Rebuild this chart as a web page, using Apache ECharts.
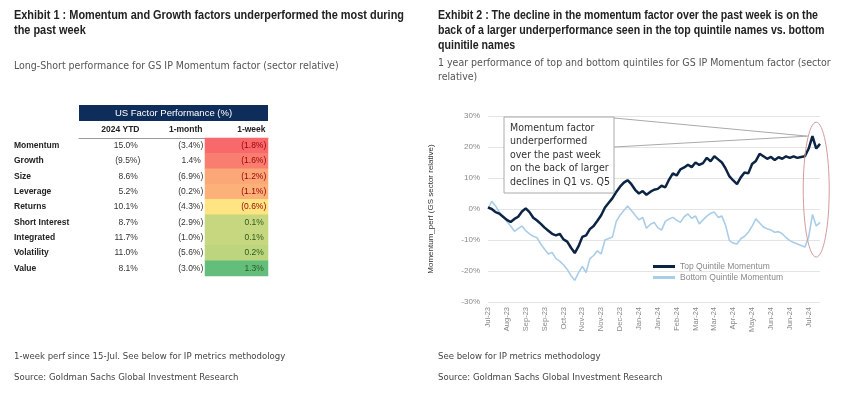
<!DOCTYPE html>
<html>
<head>
<meta charset="utf-8">
<script src="https://cdn.jsdelivr.net/npm/echarts@6/dist/echarts.min.js"></script>
<style>
    html, body { margin: 0; padding: 0; background: #fff; }
    #chartArea { width: 848px; height: 396px; }
</style>
</head>
<body>
<div id="chartArea"></div>
<script>
// 表格数据 (Exhibit 1)
const factorNames = ['Momentum', 'Growth', 'Size', 'Leverage', 'Returns', 'Short Interest', 'Integrated', 'Volatility', 'Value'];
const tableColumns = ['2024 YTD', '1-month', '1-week'];
const ytdPerf = [15.0, -9.5, 8.6, 5.2, 10.1, 8.7, 11.7, 11.0, 8.1];
const monthPerf = [-3.4, 1.4, -6.9, -0.2, -4.3, -2.9, -1.0, -5.6, -3.0];
const weekPerf = [-1.8, -1.6, -1.2, -1.1, -0.6, 0.1, 0.1, 0.2, 1.3];

// 折线数据 (Exhibit 2), one tick label every 5 points
const dateTicks = ['Jul-23', 'Aug-23', 'Sep-23', 'Sep-23', 'Oct-23', 'Nov-23', 'Nov-23', 'Dec-23', 'Jan-24',
    'Jan-24', 'Feb-24', 'Mar-24', 'Mar-24', 'Apr-24', 'May-24', 'Jun-24', 'Jun-24', 'Jul-24'];
const topQuintile = [0.5, 0, -1, -1.5, -2.5, -3.5, -4.2, -3.2, -2.5, -0.8,
    0.2, -1, -2.8, -3.7, -4.8, -6, -7, -8, -8.5, -8,
    -9.8, -10.5, -12.5, -14.2, -12, -9, -8.5, -6.5, -5.5, -3.8,
    -2, 0.5, 2, 3.5, 5.5, 7.2, 8.5, 9.3, 8, 6.2,
    5, 5.8, 4.6, 5.5, 6.2, 6.5, 7.5, 7, 9.5, 11.5,
    10.8, 12.8, 13.4, 14.3, 13.5, 15, 14.2, 14.8, 16.5, 15.4,
    17, 16, 15, 13, 10.5, 9.2, 8, 10.2, 11.8, 11.5,
    14.5, 15.5, 17.8, 17, 16.2, 16.8, 15.8, 16.7, 16.2, 17,
    16.5, 17, 16.5, 16.8, 17, 19.5, 23.5, 19.5, 21];
const bottomQuintile = [0, 2.5, 1, -1, -2.5, -4, -5.5, -7.2, -6.3, -5.5,
    -7, -8, -8.8, -9.3, -11.3, -13, -14.5, -14, -16, -16.8,
    -18, -19.5, -21.5, -23, -20.5, -18.5, -20.5, -16, -15, -13.5,
    -14.5, -10, -9.5, -9, -4, -2, -0.5, 1, -0.5, -2,
    -3.5, -2.7, -6.2, -5, -4.3, -6, -6.8, -4, -3.2, -2.7,
    -3.6, -4.3, -2.5, -1.6, -3, -2.2, -4.8, -3.5, -2.3, -1.4,
    -1, -2.7, -2.3, -5.4, -10.2, -11, -11.3, -9.6, -8.8, -7.5,
    -5.5, -3.2, -4.5, -5.8, -6.4, -6.8, -7.5, -7.3, -8, -9.2,
    -10.2, -10.8, -11.3, -11.8, -12.3, -9, -1.8, -5.5, -4.3];

// 标题文字
const title1Lines = ['Exhibit 1 : Momentum and Growth factors underperformed the most during', 'the past week'];
const title2Lines = ['Exhibit 2 : The decline in the momentum factor over the past week is on the',
    'back of a larger underperformance seen in the top quintile names vs. bottom', 'quinitile names'];

const chartDom = document.getElementById('chartArea');
const myChart = echarts.init(chartDom);

const narrow = '"Liberation Sans Narrow", "DejaVu Sans Condensed", sans-serif';
const sans = '"Liberation Sans", Arial, sans-serif';

// 百分比格式, negatives in brackets
function fmtPct(v) {
    return v < 0 ? '(' + Math.abs(v).toFixed(1) + '%)' : v.toFixed(1) + '% ';
}

// Excel style 3-colour scale (min / median / max)
const heatRed = [248, 105, 107], heatYellow = [255, 229, 130], heatGreen = [99, 190, 123];
function mix(a, b, t) {
    return 'rgb(' + a.map((c, i) => Math.round(c + (b[i] - c) * t)).join(',') + ')';
}
function weekColor(v) {
    const s = weekPerf.slice().sort((a, b) => a - b);
    const lo = s[0], hi = s[s.length - 1], mid = s[Math.floor(s.length / 2)];
    if (v <= mid) return mix(heatRed, heatYellow, (v - lo) / (mid - lo));
    return mix(heatYellow, heatGreen, (v - mid) / (hi - mid));
}

const tableData = [];
[ytdPerf, monthPerf, weekPerf].forEach((col, c) => {
    col.forEach((v, r) => {
        tableData.push({
            value: [c, r, v],
            itemStyle: { color: c === 2 ? weekColor(v) : 'rgba(255,255,255,0)' },
            label: { color: c === 2 ? (v < 0 ? '#9c0006' : '#2b5c1a') : '#333' }
        });
    });
});

// condensed bold headline: squeeze the first line into the width it has in the report
const measureCtx = document.createElement('canvas').getContext('2d');
const headFont = 'bold 12.5px "Liberation Sans", Arial, sans-serif';
measureCtx.font = headFont;
function headlineTexts(lines, left, top, width) {
    const scale = width / measureCtx.measureText(lines[0]).width;
    return lines.map((line, i) => ({
        type: 'text',
        x: left, y: top + i * 15,
        scaleX: scale,
        style: { text: line, font: headFont, fill: '#222', verticalAlign: 'middle' }
    }));
}

const subStyle = { fontFamily: narrow, fontSize: 10.5, fontWeight: 'normal', color: '#555', lineHeight: 14 };
const noteStyle = { fontFamily: narrow, fontSize: 9.5, fontWeight: 'normal', color: '#444' };

const option = {
    animation: false,
    backgroundColor: '#fff',
    title: [
        { text: 'Long-Short performance for GS IP Momentum factor (sector relative)', left: 9, top: 54, textStyle: subStyle },
        { text: '1 year performance of top and bottom quintiles for GS IP Momentum factor (sector\nrelative)', left: 433, top: 51, textStyle: subStyle },
        { text: '1-week perf since 15-Jul. See below for IP metrics methodology', left: 9, top: 347, textStyle: noteStyle },
        { text: 'Source: Goldman Sachs Global Investment Research', left: 9, top: 368, textStyle: noteStyle },
        { text: 'See below for IP metrics methodology', left: 433, top: 347, textStyle: noteStyle },
        { text: 'Source: Goldman Sachs Global Investment Research', left: 433, top: 368, textStyle: noteStyle }
    ],
    legend: {
        data: ['Top Quintile Momentum', 'Bottom Quintile Momentum'],
        orient: 'vertical',
        left: 648,
        top: 257,
        itemGap: 2,
        itemWidth: 22,
        itemHeight: 3,
        icon: 'rect',
        textStyle: { fontFamily: sans, fontSize: 8.5, color: '#888' }
    },
    grid: [
        { left: 79, top: 138, width: 189, height: 138 },
        { left: 488, top: 116, right: 28, bottom: 94 }
    ],
    xAxis: [
        {
            gridIndex: 0,
            type: 'category',
            position: 'top',
            data: tableColumns,
            axisLine: { lineStyle: { color: '#9a9a9a', width: 1 } },
            axisTick: { show: false },
            axisLabel: {
                interval: 0,
                margin: 4,
                formatter: v => '{h|' + v + '}',
                rich: { h: { width: 58, align: 'right', fontFamily: sans, fontSize: 8.5, fontWeight: 'bold', color: '#222' } }
            }
        },
        {
            gridIndex: 1,
            type: 'category',
            boundaryGap: false,
            data: topQuintile.map((_, i) => String(i)),
            axisLine: { show: false },
            axisTick: { show: false },
            axisLabel: {
                interval: 4,
                rotate: 90,
                margin: 5,
                fontFamily: sans,
                fontSize: 7.5,
                color: '#888',
                formatter: v => dateTicks[Number(v) / 5] || ''
            }
        }
    ],
    yAxis: [
        {
            gridIndex: 0,
            type: 'category',
            inverse: true,
            data: factorNames,
            axisLine: { show: false },
            axisTick: { show: false },
            axisLabel: { interval: 0, align: 'left', margin: 65, fontFamily: sans, fontSize: 8.5, fontWeight: 'bold', color: '#222' }
        },
        {
            gridIndex: 1,
            type: 'value',
            min: -30,
            max: 30,
            interval: 10,
            name: 'Momentum_perf (GS sector relative)',
            nameLocation: 'middle',
            nameGap: 53,
            nameTextStyle: { fontFamily: sans, fontSize: 8, color: '#333' },
            axisLine: { show: false },
            axisTick: { show: false },
            axisLabel: { margin: 8, fontFamily: sans, fontSize: 8, color: '#888', formatter: v => v + '%' },
            splitLine: { lineStyle: { color: '#e4e4e4', width: 1 } }
        }
    ],
    series: [
        {
            type: 'heatmap',
            xAxisIndex: 0,
            yAxisIndex: 0,
            data: tableData,
            label: {
                show: true,
                position: 'insideRight',
                distance: 2,
                fontFamily: sans,
                fontSize: 8.5,
                formatter: p => fmtPct(p.value[2])
            },
            emphasis: { disabled: true }
        },
        {
            name: 'Top Quintile Momentum',
            type: 'line',
            xAxisIndex: 1,
            yAxisIndex: 1,
            data: topQuintile,
            symbol: 'none',
            z: 4,
            lineStyle: { color: '#0c2444', width: 2.5 },
            itemStyle: { color: '#0c2444' }
        },
        {
            name: 'Bottom Quintile Momentum',
            type: 'line',
            xAxisIndex: 1,
            yAxisIndex: 1,
            data: bottomQuintile,
            symbol: 'none',
            z: 3,
            lineStyle: { color: '#a9cde8', width: 1.6 },
            itemStyle: { color: '#a9cde8' }
        }
    ]
};

myChart.setOption(option);

// 注释: callout box, leader lines and the ellipse round the last week
const spike = topQuintile.indexOf(Math.max(...topQuintile));
const spikePt = myChart.convertToPixel({ seriesIndex: 1 }, [spike, topQuintile[spike]]);
const ellTop = myChart.convertToPixel({ seriesIndex: 1 }, [spike + 1, 28]);
const ellBot = myChart.convertToPixel({ seriesIndex: 1 }, [spike + 1, -15.5]);

myChart.setOption({
    graphic: [
        ...headlineTexts(title1Lines, 14, 16, 390),
        ...headlineTexts(title2Lines, 438, 16, 380),
        {
            type: 'rect', z: 10,
            shape: { x: 79, y: 105, width: 189, height: 16 },
            style: { fill: '#0f2d5a' }
        },
        {
            type: 'text', z: 11,
            x: 173.5, y: 113,
            style: { text: 'US Factor Performance (%)', fill: '#fff', fontFamily: sans, fontSize: 9.5, align: 'center', verticalAlign: 'middle' }
        },
        {
            type: 'polyline', z: 9,
            shape: { points: [[614, 118], [spikePt[0] - 5, spikePt[1]]] },
            style: { stroke: '#aaa', lineWidth: 1, fill: null }
        },
        {
            type: 'polyline', z: 9,
            shape: { points: [[614, 147], [spikePt[0] - 5, spikePt[1]]] },
            style: { stroke: '#aaa', lineWidth: 1, fill: null }
        },
        {
            type: 'rect', z: 10,
            shape: { x: 504, y: 117, width: 110, height: 76 },
            style: { fill: '#fff', stroke: '#aaa', lineWidth: 1 }
        },
        {
            type: 'text', z: 11,
            x: 510, y: 121,
            style: {
                text: 'Momentum factor\nunderperformed\nover the past week\non the back of larger\ndeclines in Q1 vs. Q5',
                fill: '#333', fontFamily: narrow, fontSize: 10.5, lineHeight: 13.6
            }
        },
        {
            type: 'ellipse', z: 9,
            shape: { cx: ellTop[0], cy: (ellTop[1] + ellBot[1]) / 2, rx: 13, ry: (ellBot[1] - ellTop[1]) / 2 },
            style: { fill: null, stroke: '#d39b9b', lineWidth: 1 }
        }
    ]
});

window.addEventListener('resize', () => {
    myChart.resize();
});
</script>
</body>
</html>
